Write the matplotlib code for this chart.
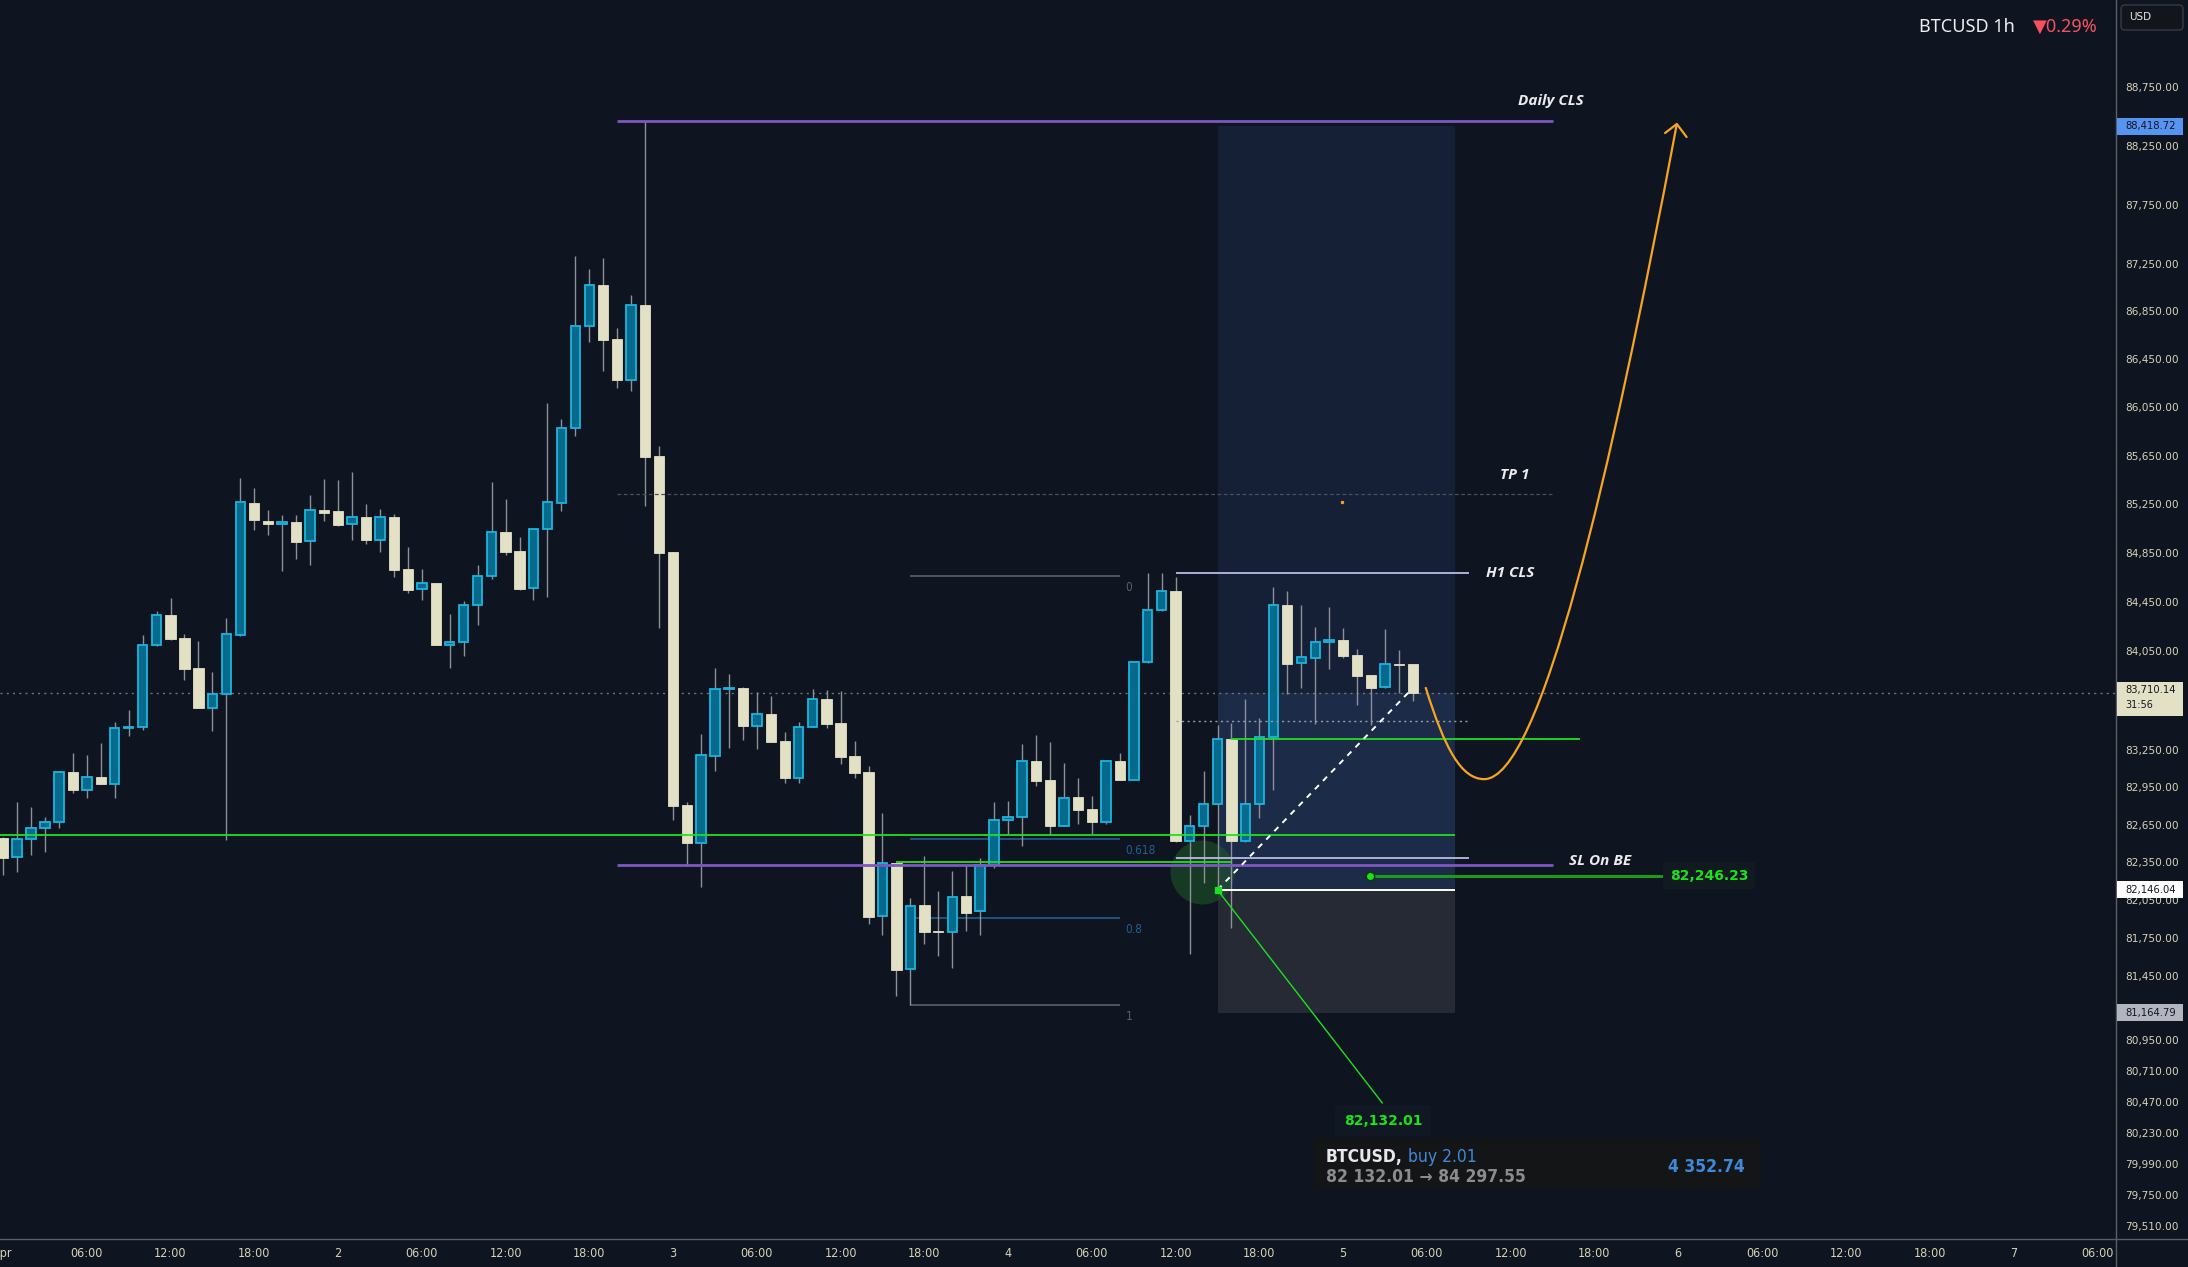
import matplotlib
matplotlib.use("Agg")
import matplotlib.pyplot as plt
import matplotlib.transforms as mtransforms
import numpy as np
from matplotlib.lines import Line2D
from matplotlib.patches import FancyBboxPatch, PathPatch, Rectangle
from matplotlib.path import Path

# BTCUSD 1h candles, 1 Apr 00:00 .. 5 Apr 05:00 (index = hours since 1 Apr 00:00)
opens = [82544, 82390, 82533, 82621, 82673, 83071, 82932, 83031, 82980, 83422,
         83430, 84094, 84340, 84153, 83910, 83591, 83704, 84180, 85257, 85110,
         85089, 85099, 84943, 85200, 85192, 85083, 85143, 84956, 85143, 84716,
         84550, 84601, 84094, 84119, 84419, 84663, 85020, 84864, 84558, 85042,
         85262, 85874, 86726, 87073, 86621, 86280, 86904, 85647, 84857, 82806,
         82505, 83203, 83743, 83749, 83443, 83536, 83319, 83028, 83430, 83658,
         83465, 83200, 83071, 81922, 82344, 81505, 82011, 81810, 81796, 82082,
         81961, 82329, 82686, 82711, 83160, 83007, 82643, 82870, 82774, 82673,
         83160, 83012, 83956, 84378, 84536, 82522, 82639, 82812, 83334, 82522,
         82812, 83350, 84419, 83948, 83989, 84119, 84137, 84013, 83853, 83753,
         83940, 83942]
highs = [82554, 82830, 82790, 82711, 83079, 83224, 83208, 83304, 83473, 83570,
         84178, 84373, 84478, 84186, 84129, 83877, 84316, 85464, 85381, 85200,
         85159, 85159, 85321, 85456, 85447, 85514, 85247, 85208, 85167, 84897,
         84716, 84601, 84348, 84454, 84747, 85431, 85290, 84979, 85042, 86084,
         85955, 87316, 87208, 87300, 86712, 86985, 88465, 85727, 84857, 82834,
         83374, 83907, 83861, 83758, 83717, 83684, 83393, 83471, 83739, 83731,
         83723, 83320, 83119, 82742, 82344, 82066, 82400, 82122, 82281, 82329,
         82385, 82830, 82838, 83296, 83368, 83312, 83143, 83023, 82878, 83168,
         83227, 83969, 84686, 84686, 84653, 82727, 83082, 83449, 83465, 83658,
         83504, 84568, 84536, 84421, 84240, 84405, 84235, 84064, 83853, 84227,
         84056, 83942]
lows = [82251, 82275, 82411, 82435, 82626, 82905, 82864, 82977, 82864, 83363,
        83411, 84088, 84139, 83812, 83588, 83401, 82528, 84170, 85036, 84995,
        84702, 84800, 84751, 85112, 85071, 84956, 84923, 84858, 84653, 84522,
        84464, 84097, 83913, 84010, 84262, 84635, 84834, 84544, 84464, 84489,
        85192, 85813, 86591, 86352, 86208, 86184, 85234, 84234, 82692, 82332,
        82153, 83083, 83263, 83329, 83253, 83314, 82982, 82983, 83430, 83427,
        83138, 83025, 81863, 81776, 81298, 81225, 81707, 81610, 81518, 81808,
        81776, 82307, 82578, 82482, 82961, 82567, 82641, 82657, 82578, 82657,
        83007, 83012, 83950, 84370, 82515, 81627, 82188, 82140, 81831, 82515,
        82705, 82929, 83697, 83750, 83459, 83904, 83989, 83612, 83449, 83750,
        83712, 83645]
closes = [82387, 82533, 82621, 82676, 83069, 82929, 83029, 82977, 83422, 83430,
          84094, 84338, 84145, 83904, 83588, 83704, 84183, 85266, 85118, 85089,
          85102, 84940, 85197, 85178, 85079, 85140, 84956, 85143, 84710, 84546,
          84599, 84099, 84119, 84419, 84663, 85017, 84858, 84555, 85042, 85263,
          85874, 86726, 87073, 86611, 86275, 86904, 85637, 84848, 82797, 82505,
          83208, 83739, 83749, 83439, 83536, 83314, 83023, 83434, 83656, 83459,
          83194, 83063, 81919, 82342, 81502, 82008, 81801, 81798, 82079, 81950,
          82329, 82686, 82711, 83157, 83001, 82641, 82866, 82769, 82673, 83160,
          83007, 83956, 84378, 84536, 82522, 82639, 82812, 83334, 82522, 82812,
          83350, 84419, 83945, 83997, 84119, 84137, 84010, 83847, 83750, 83940,
          83934, 83710.14]

# drawn levels
daily_cls = 88465
tp1 = 85336
h1_cls_levels = [84681, 82383]
h1_mid = 83481
sl_on_be = 82329
support_line = 82565
support_low = 82353
reclaim_line = 83334
fib_top, fib_bottom = 84659, 81225
fib_levels = [0, 0.618, 0.8, 1]
entry_price, target_price, stop_price = 82132.01, 88418.72, 81164.79
last_price = 83710.14
marked_price = 82246.23

# projected path (hour, price), cubic bezier control points
path_hours = [101.9, 103.3, 104.5, 106.1, 110.1, 115.1, 119.9]
path_prices = [83756, 83248, 83015, 83015, 83015, 85447, 88436]

# 83,650 sits under the last-price tag, so it is left out
price_ticks = [88750, 88250, 87750, 87250, 86850, 86450, 86050, 85650, 85250,
               84850, 84450, 84050, 83250, 82950, 82650, 82350, 82050,
               81750, 81450, 81200, 80950, 80710, 80470, 80230, 79990, 79750,
               79510]
hour_ticks = list(range(0, 151, 6))

W, H = 2188, 1267
BG = "#0f1520"
TEAL = "#076a8c"
TEAL_EDGE = "#1cb4dd"
CREAM = "#e3e1c5"
WICK = "#8d9099"
AXIS_TXT = "#d6d3b5"
GREEN = "#1fe01f"
PURPLE = "#7e57c2"
LAVENDER = "#b8bbe6"


def hour_label(h):
    if h % 24 == 0:
        return "Apr" if h == 0 else str(h // 24 + 1)
    return f"{h % 24:02d}:00"


fig = plt.figure(figsize=(W / 100, H / 100), dpi=100)
fig.patch.set_facecolor(BG)
ax = fig.add_axes([0, 28 / H, 2116 / W, 1239 / H])
ax.set_facecolor(BG)
ax.set_yscale("log")
ax.set_ylim(79409.7, 89501)
ax.set_xlim(-0.215, 151.36)
for spine in ax.spines.values():
    spine.set_visible(False)

ax.set_yticks(price_ticks, [f"{p:,.2f}" for p in price_ticks])
ax.yaxis.set_minor_locator(matplotlib.ticker.NullLocator())
ax.yaxis.tick_right()
ax.tick_params(axis="y", length=0, pad=6.5, labelsize=7.6, colors=AXIS_TXT)
ax.set_xticks(hour_ticks, [hour_label(h) for h in hour_ticks])
ax.tick_params(axis="x", length=0, pad=6, colors=AXIS_TXT)
for lab in ax.get_xticklabels():
    lab.set_fontsize(9)
    lab.set_fontstretch("condensed")

# long position box
ax.add_patch(Rectangle((87, entry_price), 17, target_price - entry_price,
                       color="#152036", lw=0, zorder=1))
ax.add_patch(Rectangle((87, entry_price), 17, last_price - entry_price,
                       color="#1c2b47", lw=0, zorder=1))
ax.add_patch(Rectangle((87, stop_price), 17, entry_price - stop_price,
                       color="#262a35", lw=0, zorder=1))

# fib retracement
for lvl in fib_levels:
    price = fib_top - lvl * (fib_top - fib_bottom)
    col = "#5d606b" if lvl in (0, 1) else "#1f5f8e"
    ax.hlines(price, 65, 80, color=col, lw=1.2, zorder=2)
    ax.annotate(f"{lvl:g}", (80.4, price), xytext=(0, -5), textcoords="offset pixels",
                ha="left", va="top", color=col, fontsize=8.5, fontstretch="condensed")

# entry highlight circle
ax.plot([85.9], [82275], "o", ms=46, color="#1f5a28", alpha=0.55, mew=0, zorder=2)

# candles
x = np.arange(len(opens))
o, hi, lo, c = (np.array(v, dtype=float) for v in (opens, highs, lows, closes))
up = c >= o
ax.vlines(x, lo, hi, color=WICK, lw=1.0, zorder=3)
body_lo = np.minimum(o, c)
body_h = np.maximum(np.abs(c - o), 7)
ax.bar(x[up], body_h[up], bottom=body_lo[up], width=0.68, color=TEAL,
       edgecolor=TEAL_EDGE, lw=1.3, zorder=4)
ax.bar(x[~up], body_h[~up], bottom=body_lo[~up], width=0.74, color=CREAM,
       edgecolor=CREAM, lw=0.6, zorder=4)

# current price line
ax.axhline(last_price, color="#6f737c", lw=1.0, ls=(0, (1.5, 3)), zorder=2)

# horizontal levels
ax.hlines(daily_cls, 44, 111, color=PURPLE, lw=2, zorder=5)
ax.hlines(sl_on_be, 44, 111, color=PURPLE, lw=2, zorder=5)
ax.hlines(tp1, 44, 111, color="#4a4e58", lw=0.9, ls=(0, (3, 2)), zorder=5)
ax.hlines(h1_cls_levels, 84, 105, color=LAVENDER, lw=1.3, zorder=5)
ax.hlines(h1_mid, 84, 105, color="#9a9da8", lw=1.0, ls=(0, (1.5, 2.5)), zorder=5)
ax.hlines(support_line, -1, 104, color=GREEN, lw=1.3, zorder=5)
ax.hlines(support_low, 64, 88, color=GREEN, lw=1.3, zorder=5)
ax.hlines(reclaim_line, 88, 113, color=GREEN, lw=1.3, zorder=5)
ax.hlines(entry_price, 87, 104, color="white", lw=1.4, zorder=5)

# trade lines
ax.plot([87, 100.7], [entry_price, 83715], color="white", lw=1.4,
        ls=(0, (3, 3)), zorder=6)
ax.plot([87, 98.8], [entry_price, 80460], color=GREEN, lw=1.0, zorder=6)
ax.plot([87], [entry_price], "s", ms=4, color=GREEN, zorder=7)
ax.plot([97.9, 118.8], [marked_price, marked_price], color="#1b9a1b", lw=2.2, zorder=6)
ax.plot([97.9], [marked_price], "o", ms=6, color=GREEN, mec="#0b3b0b", mew=1, zorder=7)
ax.plot([95.9], [85266], "o", ms=1.5, color="#f5a524", zorder=6)

# projected path
verts = list(zip(path_hours, path_prices))
codes = [Path.MOVETO] + [Path.CURVE4] * 6
ax.add_patch(PathPatch(Path(verts, codes), fill=False, edgecolor="#f5a524",
                       lw=1.6, zorder=7))
tip = (path_hours[-1], path_prices[-1])
ax.plot([119.06, tip[0], 120.6], [88359, tip[1], 88325], color="#f5a524",
        lw=1.6, zorder=7, solid_capstyle="round")

# labels on chart
lbl = dict(color="#ececec", fontsize=11, fontweight="bold", fontstyle="italic",
           family=["Open Sans", "DejaVu Sans"], zorder=8)
ax.annotate("Daily CLS", (113.2, daily_cls), xytext=(0, 20),
            textcoords="offset pixels", ha="right", va="center", **lbl)
ax.text(107.2, 85493, "TP 1", ha="left", va="center", **lbl)
ax.text(106.2, h1_cls_levels[0], "H1 CLS", ha="left", va="center", **lbl)
ax.text(112.2, 82365, "SL On BE", ha="left", va="center", **lbl)
ax.text(122.2, marked_price, f"{marked_price:,.2f}", ha="center", va="center",
        color=GREEN, fontsize=10, fontweight="bold", zorder=8,
        bbox=dict(boxstyle="square,pad=0.5", fc="#111a1f", ec="none"))
ax.text(98.85, 80323, f"{entry_price:,.2f}", ha="center", va="center",
        color=GREEN, fontsize=10, fontweight="bold", zorder=8,
        bbox=dict(boxstyle="square,pad=0.6", fc="#101823", ec="none"))

# axis frame lines
fig.add_artist(Line2D([2116 / W, 2116 / W], [0, 1], color="#5b5e66", lw=1))
fig.add_artist(Line2D([0, 1], [28 / H, 28 / H], color="#5b5e66", lw=1))

ident = mtransforms.IdentityTransform()


def axis_tag(price, text, face, fg, below=8.5, above=8.5, extra=None):
    yd = ax.transData.transform((0, price))[1]
    fig.add_artist(Rectangle((2117, yd - below), 66, below + above, transform=ident,
                             facecolor=face, edgecolor="none", zorder=5))
    shift = 3 if extra else 0
    fig.text(2125, yd + shift, text, transform=ident, ha="left", va="center",
             fontsize=7.2, color=fg, zorder=6)
    if extra:
        fig.text(2125, yd - 12.5, extra, transform=ident, ha="left", va="center",
                 fontsize=7.0, color=fg, zorder=6)


axis_tag(target_price, f"{target_price:,.2f}", "#5794f2", "#0f1520")
axis_tag(last_price, f"{last_price:,.2f}", CREAM, "#131722", below=23, above=10.5,
         extra="31:56")
axis_tag(82135, "82,146.04", "white", "#131722")
axis_tag(stop_price, f"{stop_price:,.2f}", "#b2b5be", "#131722")

# header
fig.text(1919 / W, 1 - 27 / H, "BTCUSD 1h", ha="left", va="center", fontsize=13,
         fontweight="semibold", color="#eeeeee", family=["Noto Sans", "DejaVu Sans"])
fig.text(2033 / W, 1 - 27 / H, "▼0.29%", ha="left", va="center", fontsize=13,
         color="#f5515f", family=["Noto Sans", "DejaVu Sans"])
fig.add_artist(FancyBboxPatch((2121, H - 30), 62, 25, transform=ident,
                              boxstyle="round,pad=0,rounding_size=4",
                              facecolor="#12151c", edgecolor="#363a45", lw=1))
fig.text(2129, H - 17, "USD", transform=ident, ha="left", va="center",
         fontsize=7.5, color="#e6e6e6")

# trade summary box
fig.add_artist(Rectangle((1314, H - 1189), 447, 51, transform=ident,
                         facecolor="#131517", edgecolor="none"))
box_txt = dict(transform=ident, va="center", fontsize=12.5, fontstretch="condensed")
t_sym = fig.text(1326, H - 1157, "BTCUSD,", ha="left", fontweight="bold",
                 color="#e8e8e8", **box_txt)
renderer = fig.canvas.get_renderer()
sym_end = t_sym.get_window_extent(renderer).x1
fig.text(sym_end + 5, H - 1157, "buy 2.01", ha="left", color="#3f8ad8", **box_txt)
fig.text(1326, H - 1177, "82 132.01 → 84 297.55", ha="left", fontweight="bold",
         color="#8c8c8c", **box_txt)
fig.text(1745, H - 1167, "4 352.74", ha="right", fontweight="bold",
         color="#3f8ad8", **box_txt)

fig.savefig("out.png", dpi=100, facecolor=BG)
